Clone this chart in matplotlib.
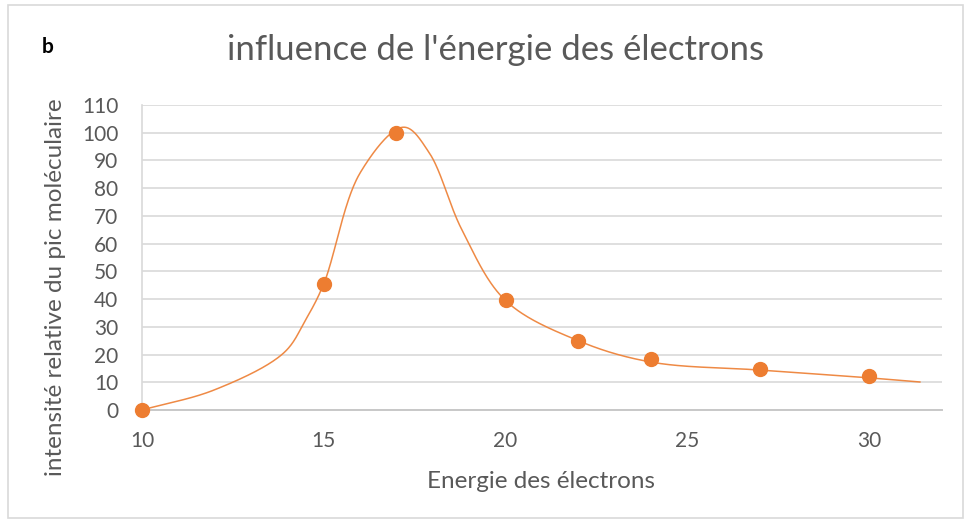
import numpy as np
import matplotlib
matplotlib.use("Agg")
import matplotlib.pyplot as plt
from matplotlib.patches import Rectangle

# Measured points: electron energy vs relative intensity of the molecular peak
energie = [10, 15, 17, 20, 22, 24, 27, 30]
intensite = [0, 45.5, 100, 39.5, 25, 18.4, 14.7, 12.3]

# Knots of the smoothed guide curve
courbe_x = [10, 12, 13.9, 14.5, 15, 16, 17.2, 17.9, 18.8, 20, 22, 24, 27, 30, 31.4]
courbe_y = [0, 7.3, 20.6, 32.5, 45.5, 85.5, 102, 92.8, 65, 39.5, 25, 17.3, 14.4, 11.6, 10.1]

x_ticks = [10, 15, 20, 25, 30]
y_ticks = list(range(0, 111, 10))

ORANGE = "#ED7D31"
TEXT = "#595959"
GRID = "#D9D9D9"
FONT = ["Lato", "DejaVu Sans"]


def centripetal_spline(xs, ys, sx=36.35, sy=2.77, n=50, alpha=0.5):
    """Centripetal Catmull-Rom curve, evaluated in screen-like units."""
    pts = np.column_stack([np.asarray(xs, float) * sx, np.asarray(ys, float) * sy])
    pts = np.vstack([2 * pts[0] - pts[1], pts, 2 * pts[-1] - pts[-2]])
    out = []
    for i in range(1, len(pts) - 2):
        p0, p1, p2, p3 = pts[i - 1], pts[i], pts[i + 1], pts[i + 2]
        t0 = 0.0
        t1 = t0 + np.linalg.norm(p1 - p0) ** alpha
        t2 = t1 + np.linalg.norm(p2 - p1) ** alpha
        t3 = t2 + np.linalg.norm(p3 - p2) ** alpha
        t = np.linspace(t1, t2, n, endpoint=False)[:, None]
        a1 = (t1 - t) / (t1 - t0) * p0 + (t - t0) / (t1 - t0) * p1
        a2 = (t2 - t) / (t2 - t1) * p1 + (t - t1) / (t2 - t1) * p2
        a3 = (t3 - t) / (t3 - t2) * p2 + (t - t2) / (t3 - t2) * p3
        b1 = (t2 - t) / (t2 - t0) * a1 + (t - t0) / (t2 - t0) * a2
        b2 = (t3 - t) / (t3 - t1) * a2 + (t - t1) / (t3 - t1) * a3
        out.append((t2 - t) / (t2 - t1) * b1 + (t - t1) / (t2 - t1) * b2)
    out.append(pts[-2][None, :])
    out = np.vstack(out)
    return out[:, 0] / sx, out[:, 1] / sy


plt.rcParams["font.family"] = FONT

fig = plt.figure(figsize=(9.72, 5.24), dpi=100)
fig.patches.append(Rectangle((8 / 972, 1 - 518 / 524), 955 / 972, 513 / 524,
                             transform=fig.transFigure, fill=False,
                             edgecolor="#D9D9D9", linewidth=1.2))

ax = fig.add_axes([142 / 972, 1 - 410 / 524, (941.7 - 142) / 972, (410 - 105) / 524])
ax.set_xlim(10, 32)
ax.set_ylim(0, 110)

ax.set_xticks(x_ticks)
ax.set_yticks(y_ticks)
ax.tick_params(length=0, labelsize=15, labelcolor=TEXT)
ax.tick_params(axis="x", pad=15)
ax.tick_params(axis="y", pad=17)
ax.grid(axis="y", color=GRID, linewidth=1.2)
ax.set_axisbelow(True)

for side in ("top", "right"):
    ax.spines[side].set_visible(False)
ax.spines["left"].set_color(GRID)
ax.spines["left"].set_linewidth(1.2)
ax.spines["bottom"].set_color("#C8C8C8")
ax.spines["bottom"].set_linewidth(1.4)

cx, cy = centripetal_spline(courbe_x, courbe_y)
ax.plot(cx, cy, color=ORANGE, linewidth=1.1, alpha=0.9, clip_on=False, zorder=3)
ax.plot(energie, intensite, linestyle="none", marker="o", markersize=10,
        color=ORANGE, markeredgecolor=ORANGE, clip_on=False, zorder=4)

fig.text(495 / 972, 1 - 50 / 524, "influence de l'énergie des électrons",
         ha="center", va="center", fontsize=25, color=TEXT)
fig.text(48 / 972, 1 - 47 / 524, "b", ha="center", va="center",
         fontsize=15, fontweight="bold", color="black")
fig.text(541 / 972, 1 - 481 / 524, "Energie des électrons",
         ha="center", va="center", fontsize=17.5, color=TEXT)
fig.text(55 / 972, 1 - 287 / 524, "intensité relative du pic moléculaire",
         ha="center", va="center", rotation=90, fontsize=17.5, color=TEXT)

fig.savefig("out.png", dpi=100)
